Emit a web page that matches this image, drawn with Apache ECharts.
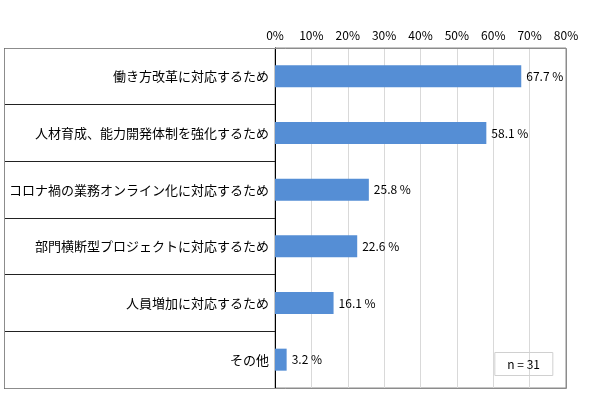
<!DOCTYPE html>
<html>
<head>
<meta charset="utf-8">
<script src="https://cdn.jsdelivr.net/npm/echarts@6/dist/echarts.min.js"></script>
<style>html,body{margin:0;padding:0;background:#fff;}#c{width:590px;height:401px;}</style>
</head>
<body>
<div id="c"></div>
<script>
const categories = [
  '働き方改革に対応するため',
  '人材育成、能力開発体制を強化するため',
  'コロナ禍の業務オンライン化に対応するため',
  '部門横断型プロジェクトに対応するため',
  '人員増加に対応するため',
  'その他'
];
const values = [67.7, 58.1, 25.8, 22.6, 16.1, 3.2];
const sampleNote = 'n = 31';

const FONT = '"Noto Sans CJK JP", "Noto Sans", sans-serif';
const chart = echarts.init(document.getElementById('c'));
chart.setOption({
  animation: false,
  backgroundColor: '#fff',
  title: {
    text: sampleNote,
    right: 37,
    top: 352,
    padding: [6, 13, 6, 13],
    borderColor: '#d0d0d0',
    borderWidth: 1,
    textStyle: { fontFamily: FONT, fontSize: 12, fontWeight: 'normal', color: '#000' }
  },
  grid: {
    left: 275, right: 24, top: 48, bottom: 13,
    show: true, borderColor: '#8c8c8c', borderWidth: 1
  },
  xAxis: {
    type: 'value',
    position: 'top',
    min: 0, max: 80, interval: 10,
    axisLine: { show: false },
    axisTick: { show: false },
    splitLine: { lineStyle: { color: '#d9d9d9' } },
    axisLabel: { formatter: '{value}%', fontFamily: FONT, fontSize: 12, color: '#000', margin: 7 }
  },
  yAxis: {
    type: 'category',
    inverse: true,
    data: categories,
    axisLine: { show: true, lineStyle: { color: '#000', width: 1 } },
    axisTick: { show: true, length: 271, lineStyle: { color: '#222' } },
    axisLabel: { fontFamily: FONT, fontSize: 13, color: '#000', margin: 6 }
  },
  series: [{
    type: 'bar',
    data: values,
    barWidth: 22,
    itemStyle: { color: '#558ED5' },
    label: {
      show: true,
      position: 'right',
      distance: 5,
      fontFamily: FONT,
      fontSize: 12,
      color: '#000',
      formatter: p => p.value.toFixed(1) + ' %'
    }
  }],
  graphic: [{
    type: 'rect',
    z: 100,
    shape: { x: 4.5, y: 48.5, width: 562, height: 340 },
    style: { fill: 'none', stroke: '#8c8c8c', lineWidth: 1 },
    silent: true
  }]
});
</script>
</body>
</html>
